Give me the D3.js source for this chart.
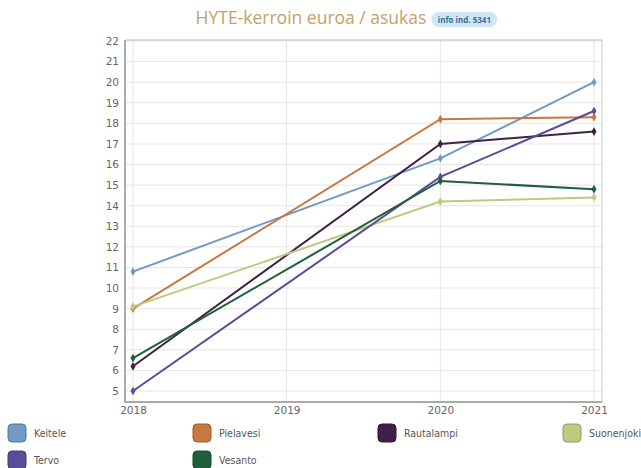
<!DOCTYPE html>
<html><head><meta charset="utf-8">
<script src="https://cdn.jsdelivr.net/npm/d3@7"></script>
<style>
body{margin:0;background:#fff;}
svg{display:block;font-family:"Open Sans",sans-serif;}
</style></head><body>
<svg id="c" width="641" height="468"></svg>
<script>
const years = [2018, 2019, 2020, 2021];
const seriesNames = ["Keitele","Pielavesi","Rautalampi","Suonenjoki","Tervo","Vesanto"];
const colors = ["#7199c6","#c8773f","#3f2147","#bccb80","#5a4c98","#1f5f3b"];
const keitele    = [10.8, null, 16.3, 20.0];
const pielavesi  = [9.0,  null, 18.2, 18.3];
const rautalampi = [6.2,  null, 17.0, 17.6];
const suonenjoki = [9.1,  null, 14.2, 14.4];
const tervo      = [5.0,  null, 15.4, 18.6];
const vesanto    = [6.6,  null, 15.2, 14.8];
const values = [keitele, pielavesi, rautalampi, suonenjoki, tervo, vesanto];
const yTicks = d3.range(5, 23);

const svg = d3.select("#c");
const x = d3.scalePoint().domain(years).range([133, 594]);
const y = d3.scaleLinear().domain([5, 22]).range([391, 41]);

// title
const title = svg.append("text").attr("x", 311).attr("y", 24).attr("text-anchor","middle")
  .attr("font-size", 17.5).attr("fill","#c6a06a").attr("font-family","Open Sans, sans-serif")
  .text("HYTE-kerroin euroa / asukas");
const tb = title.node().getBBox();
const bx = tb.x + tb.width + 5;
svg.append("rect").attr("x", bx).attr("y", 12).attr("width", 66).attr("height", 15).attr("rx", 7.5)
  .attr("fill","#cfe6f5");
svg.append("text").attr("x", bx + 33).attr("y", 23).attr("text-anchor","middle")
  .attr("font-size", 8).attr("font-weight","bold").attr("fill","#3b6f95").text("info ind. 5341");

// grid
const g = svg.append("g");
g.selectAll(".hg").data(yTicks).join("line")
  .attr("x1", 125).attr("x2", 602).attr("y1", d=>y(d)).attr("y2", d=>y(d))
  .attr("stroke","#e6e6e6").attr("stroke-width",1);
g.selectAll(".vg").data(years).join("line")
  .attr("x1", d=>x(d)).attr("x2", d=>x(d)).attr("y1", 40).attr("y2", 402)
  .attr("stroke","#e6e6e6").attr("stroke-width",1);

// frame
svg.append("line").attr("x1",125).attr("x2",602).attr("y1",40).attr("y2",40).attr("stroke","#bbb");
svg.append("line").attr("x1",602).attr("x2",602).attr("y1",40).attr("y2",402).attr("stroke","#ccc");

// axes
const yAxis = svg.append("g").attr("transform","translate(125,0)")
  .call(d3.axisLeft(y).tickValues(yTicks).tickSize(0).tickPadding(6));
yAxis.select(".domain").attr("stroke","#aaa").attr("stroke-width",2).attr("d","M0,40V402");
yAxis.selectAll("text").attr("fill","#666").attr("font-size",10.5).attr("font-family","DejaVu Sans, sans-serif");

const xAxis = svg.append("g").attr("transform","translate(0,402)")
  .call(d3.axisBottom(x).tickSize(0).tickPadding(5).tickFormat(d3.format("d")));
xAxis.select(".domain").attr("stroke","#aaa").attr("stroke-width",2).attr("d","M124,0H602");
xAxis.selectAll("text").attr("fill","#666").attr("font-size",10.5).attr("font-family","DejaVu Sans, sans-serif");

// lines
const line = d3.line().defined(d=>d.v!=null).x(d=>x(d.yr)).y(d=>y(d.v));
values.forEach((vals, i) => {
  const pts = vals.map((v, j) => ({yr: years[j], v})).filter(d=>d.v!=null);
  svg.append("path").datum(pts).attr("d", line).attr("fill","none")
    .attr("stroke", colors[i]).attr("stroke-width", 2);
  svg.selectAll(null).data(pts).join("path")
    .attr("transform", d=>`translate(${x(d.yr)},${y(d.v)})`)
    .attr("d", d3.symbol().type(d3.symbolDiamond).size(22))
    .attr("fill", colors[i]);
});

// legend
const legX = [8, 193, 378, 563];
const legY = [424, 451];
seriesNames.forEach((n, i) => {
  const lx = legX[i % 4], ly = legY[Math.floor(i / 4)];
  svg.append("rect").attr("x", lx).attr("y", ly).attr("width", 18).attr("height", 18).attr("rx", 4)
    .attr("fill", colors[i]).attr("stroke", d3.color(colors[i]).darker(0.7)).attr("stroke-width", 1);
  svg.append("text").attr("x", lx + 26).attr("y", ly + 13).attr("font-size", 10.5)
    .attr("fill","#555").attr("font-family","DejaVu Sans Condensed, sans-serif")
    .attr("font-stretch","condensed").text(n);
});
</script></body></html>
